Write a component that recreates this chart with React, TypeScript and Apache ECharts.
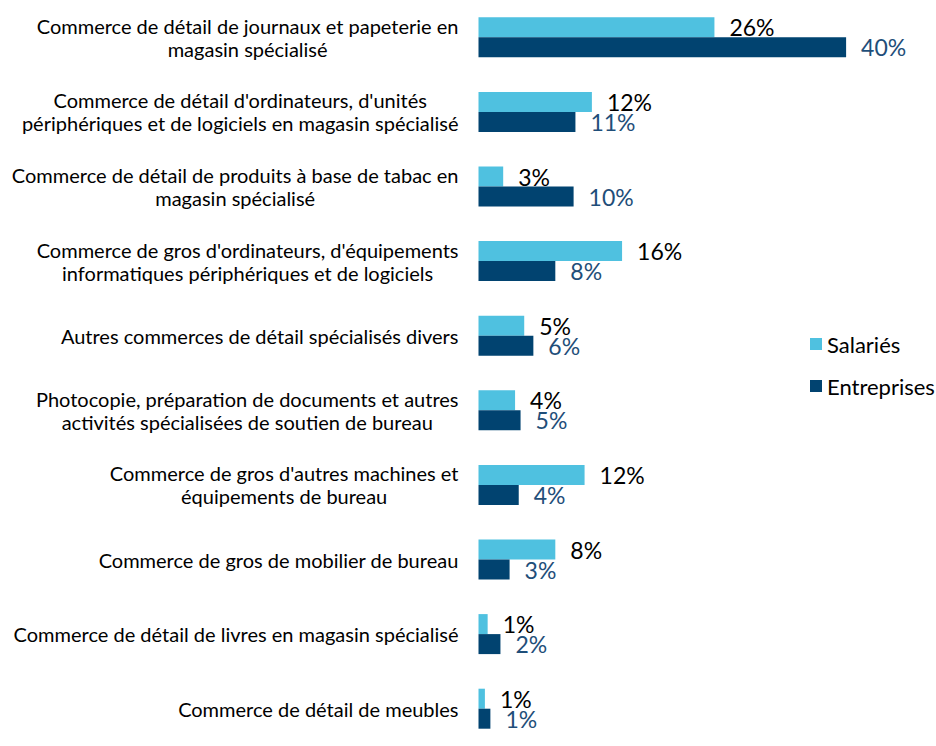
import React, { useEffect, useRef } from "react";
import * as echarts from "echarts";

const categories: string[] = [
  "Commerce de détail de journaux et papeterie en\nmagasin spécialisé",
  "Commerce de détail d'ordinateurs, d'unités\npériphériques et de logiciels en magasin spécialisé",
  "Commerce de détail de produits à base de tabac en\nmagasin spécialisé",
  "Commerce de gros d'ordinateurs, d'équipements\ninformatiques périphériques et de logiciels",
  "Autres commerces de détail spécialisés divers",
  "Photocopie, préparation de documents et autres\nactivités spécialisées de soutien de bureau",
  "Commerce de gros d'autres machines et\néquipements de bureau",
  "Commerce de gros de mobilier de bureau",
  "Commerce de détail de livres en magasin spécialisé",
  "Commerce de détail de meubles",
];

const salaries: number[] = [25.8, 12.4, 2.7, 15.7, 5.0, 4.0, 11.6, 8.4, 1.0, 0.7];
const entreprises: number[] = [40.2, 10.6, 10.4, 8.4, 6.0, 4.6, 4.4, 3.4, 2.4, 1.3];

const seriesNames = ["Salariés", "Entreprises"];
const FONT = "Lato, 'Noto Sans', sans-serif";

export default function App() {
  const ref = useRef<HTMLDivElement>(null);
  useEffect(() => {
    if (!ref.current) return;
    const chart = echarts.init(ref.current, undefined, { renderer: "svg" });
    const pct = (p: any) => Math.round(p.value) + "%";
    chart.setOption({
      animation: false,
      textStyle: { fontFamily: FONT },
      grid: { left: 478.5, right: 46, top: -4.5, bottom: -19.5, containLabel: false },
      legend: {
        orient: "vertical",
        left: 805,
        top: 328,
        icon: "rect",
        itemWidth: 12,
        itemHeight: 12,
        itemGap: 20,
        textStyle: { fontFamily: FONT, fontSize: 22, color: "#000" },
        data: seriesNames,
      },
      xAxis: {
        type: "value",
        min: 0,
        max: 45,
        show: false,
      },
      yAxis: {
        type: "category",
        inverse: true,
        data: categories,
        axisLine: { show: false },
        axisTick: { show: false },
        axisLabel: {
          margin: 20,
          align: "right",
          fontFamily: FONT,
          fontSize: 20,
          color: "#000",
          lineHeight: 23,
          formatter: (v: string) =>
            v
              .split("\n")
              .map((l) => "{c|" + l + "}")
              .join("\n"),
          rich: {
            c: { align: "center", fontFamily: FONT, fontSize: 20, color: "#000", lineHeight: 23 },
          },
        },
      },
      series: [
        {
          name: seriesNames[0],
          type: "bar",
          data: salaries,
          barWidth: 20,
          barGap: "0%",
          itemStyle: { color: "#4FC1E0" },
          label: {
            show: true,
            position: "right",
            distance: 15,
            formatter: pct,
            fontFamily: FONT,
            fontSize: 23,
            color: "#000",
          },
        },
        {
          name: seriesNames[1],
          type: "bar",
          data: entreprises,
          barWidth: 20,
          barGap: "0%",
          itemStyle: { color: "#014370" },
          label: {
            show: true,
            position: "right",
            distance: 15,
            formatter: pct,
            fontFamily: FONT,
            fontSize: 23,
            color: "#1F4E79",
          },
        },
      ],
    });
    return () => chart.dispose();
  }, []);
  return (
    <div
      ref={ref}
      style={{ position: "absolute", left: 0, top: 0, width: 936, height: 746, background: "#fff" }}
    />
  );
}
